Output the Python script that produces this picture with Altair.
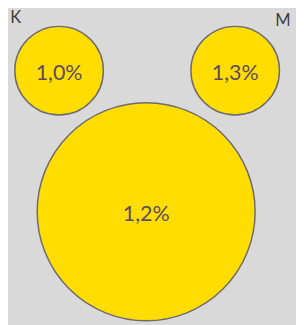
import altair as alt
import pandas as pd

# ---- data ----
headings = ["K", "M", ""]
values = [1.0, 1.3, 1.2]

# ---- layout (reference pixel coordinates) ----
center_x = [60.5, 241.5, 150.0]
center_y = [68.0, 68.0, 213.0]
radius = [45.5, 45.5, 112.0]
heading_x = [16.0, 290.5]
heading_y = [13.5, 17.0]

labels = [f"{v:.1f}".replace(".", ",") + "%" for v in values]
df = pd.DataFrame({
    "heading": headings,
    "value": values,
    "label": labels,
    "cx": center_x,
    "cy": center_y,
    "size": [(2 * r) ** 2 for r in radius],
})
hdf = pd.DataFrame({"heading": headings[:2], "hx": heading_x, "hy": heading_y})

xs = alt.Scale(domain=[8, 304], range=[0, 296])
ys = alt.Scale(domain=[8, 325], range=[0, 317])

base = alt.Chart(df)
circles = base.mark_point(
    shape="circle", filled=True, fill="#ffdd00", stroke="#6e6a6e",
    strokeWidth=1.5, opacity=1, fillOpacity=1, strokeOpacity=1,
).encode(
    x=alt.X("cx:Q", scale=xs, axis=None),
    y=alt.Y("cy:Q", scale=ys, axis=None),
    size=alt.Size("size:Q", scale=None, legend=None),
)
texts = base.mark_text(
    font="Lato", fontSize=22, color="#5e4b63", baseline="middle", align="center", dy=3,
).encode(
    x=alt.X("cx:Q", scale=xs, axis=None),
    y=alt.Y("cy:Q", scale=ys, axis=None),
    text="label:N",
)
heads = alt.Chart(hdf).mark_text(
    font="Lato", fontSize=17, color="#404040", baseline="middle", align="center",
).encode(
    x=alt.X("hx:Q", scale=xs, axis=None),
    y=alt.Y("hy:Q", scale=ys, axis=None),
    text="heading:N",
)

chart = alt.layer(circles, texts, heads).properties(
    width=296, height=317, padding=0, autosize="none", background="#d9d9d9",
).configure_view(stroke=None)

chart.save("out.html", embed_options={"renderer": "svg", "actions": False})
